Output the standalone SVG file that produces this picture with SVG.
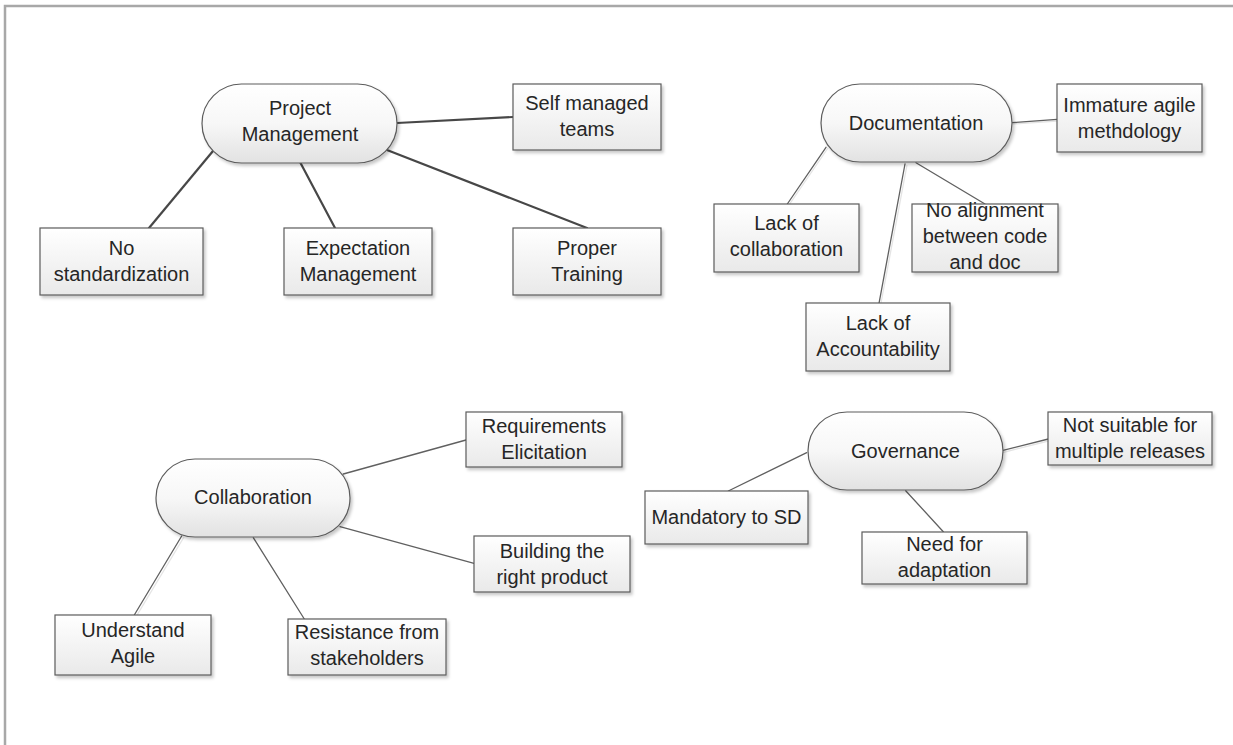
<svg xmlns="http://www.w3.org/2000/svg" width="1233" height="745" viewBox="0 0 1233 745">
<defs>
<linearGradient id="gBox" x1="0" y1="0" x2="0" y2="1">
<stop offset="0" stop-color="#ffffff"/>
<stop offset="1" stop-color="#e9e9e9"/>
</linearGradient>
<linearGradient id="gHub" x1="0" y1="0" x2="0" y2="1">
<stop offset="0" stop-color="#ffffff"/>
<stop offset="0.5" stop-color="#f7f7f7"/>
<stop offset="1" stop-color="#e2e2e2"/>
</linearGradient>
<filter id="sh" x="-10%" y="-10%" width="125%" height="130%">
<feDropShadow dx="2" dy="2.5" stdDeviation="1.5" flood-color="#000" flood-opacity="0.22"/>
</filter>
</defs>
<style>
.box{fill:url(#gBox);stroke:#5c5c5c;stroke-width:1.2;filter:url(#sh)}
.hub{fill:url(#gHub);stroke:#5c5c5c;stroke-width:1.2;filter:url(#sh)}
.t{font-family:"Liberation Sans",Arial,sans-serif;font-size:20px;fill:#262626;text-anchor:middle}
.c1{stroke:#474747;stroke-width:2.2;fill:none;stroke-linecap:round}
.c2{stroke:#606060;stroke-width:1.3;fill:none;stroke-linecap:round}
.c2s{stroke:#e4e4e4;stroke-width:1.3;fill:none}
</style>
<rect x="5" y="6" width="1300" height="800" fill="#ffffff" stroke="#a8a8a8" stroke-width="2.5"/>

<g id="connectors">
<line class="c1" x1="397" y1="123" x2="513" y2="117"/>
<line class="c1" x1="387" y1="150" x2="587" y2="228"/>
<line class="c1" x1="213" y1="151" x2="149" y2="228"/>
<line class="c1" x1="300" y1="162" x2="335" y2="228"/>

<line class="c2s" x1="1013" y1="124" x2="1057" y2="121"/>
<line class="c2" x1="1012" y1="122.7" x2="1057" y2="119.3"/>
<line class="c2s" x1="828" y1="148" x2="789" y2="205"/>
<line class="c2" x1="826" y1="147.3" x2="787.3" y2="204"/>
<line class="c2s" x1="907" y1="165" x2="881" y2="303"/>
<line class="c2" x1="905" y1="164" x2="879" y2="303.3"/>
<line class="c2" x1="916" y1="162.7" x2="985" y2="204"/>

<line class="c2" x1="343.3" y1="474" x2="466" y2="440"/>
<line class="c2" x1="340" y1="526.7" x2="474" y2="563.3"/>
<line class="c2s" x1="184" y1="537" x2="136.5" y2="616"/>
<line class="c2" x1="181.7" y1="536" x2="134.3" y2="615"/>
<line class="c2" x1="253.3" y1="537.7" x2="304.3" y2="619"/>

<line class="c2" x1="806.7" y1="452.7" x2="728.3" y2="491"/>
<line class="c2" x1="905.7" y1="490.7" x2="943.3" y2="531.7"/>
<line class="c2s" x1="1003" y1="452.5" x2="1048.3" y2="441"/>
<line class="c2" x1="1002" y1="450.7" x2="1048.3" y2="439"/>
</g>

<g id="project-management">
<rect class="hub" x="202" y="84" width="195" height="79" rx="39.5"/>
<text class="t" x="300" y="115">Project</text>
<text class="t" x="300" y="141">Management</text>
</g>
<g id="self-managed-teams">
<rect class="box" x="513" y="84" width="148" height="66"/>
<text class="t" x="587" y="110">Self managed</text>
<text class="t" x="587" y="136">teams</text>
</g>
<g id="no-standardization">
<rect class="box" x="40" y="228" width="163" height="67"/>
<text class="t" x="121.5" y="255">No</text>
<text class="t" x="121.5" y="281">standardization</text>
</g>
<g id="expectation-management">
<rect class="box" x="284" y="228" width="148" height="67"/>
<text class="t" x="358" y="255">Expectation</text>
<text class="t" x="358" y="281">Management</text>
</g>
<g id="proper-training">
<rect class="box" x="513" y="228" width="148" height="67"/>
<text class="t" x="587" y="255">Proper</text>
<text class="t" x="587" y="281">Training</text>
</g>

<g id="documentation">
<rect class="hub" x="821" y="84" width="191" height="78" rx="39"/>
<text class="t" x="916" y="130">Documentation</text>
</g>
<g id="immature-agile">
<rect class="box" x="1057" y="84" width="145" height="68"/>
<text class="t" x="1129.5" y="112">Immature agile</text>
<text class="t" x="1129.5" y="137.5">methdology</text>
</g>
<g id="lack-of-collaboration">
<rect class="box" x="714" y="204" width="145" height="68"/>
<text class="t" x="786.5" y="230">Lack of</text>
<text class="t" x="786.5" y="256">collaboration</text>
</g>
<g id="no-alignment">
<rect class="box" x="912" y="204" width="146" height="68"/>
<text class="t" x="985" y="217">No alignment</text>
<text class="t" x="985" y="243">between code</text>
<text class="t" x="985" y="269">and doc</text>
</g>
<g id="lack-of-accountability">
<rect class="box" x="806" y="303" width="144" height="68"/>
<text class="t" x="878" y="330">Lack of</text>
<text class="t" x="878" y="356">Accountability</text>
</g>

<g id="collaboration">
<rect class="hub" x="156" y="459" width="194" height="78" rx="39"/>
<text class="t" x="253" y="504">Collaboration</text>
</g>
<g id="requirements-elicitation">
<rect class="box" x="466" y="412" width="156" height="55"/>
<text class="t" x="544" y="433">Requirements</text>
<text class="t" x="544" y="458.5">Elicitation</text>
</g>
<g id="building-right-product">
<rect class="box" x="474" y="536" width="156" height="56"/>
<text class="t" x="552" y="558">Building the</text>
<text class="t" x="552" y="583.5">right product</text>
</g>
<g id="understand-agile">
<rect class="box" x="55" y="615" width="156" height="60"/>
<text class="t" x="133" y="637">Understand</text>
<text class="t" x="133" y="663">Agile</text>
</g>
<g id="resistance-stakeholders">
<rect class="box" x="288" y="619" width="158" height="56"/>
<text class="t" x="367" y="638.5">Resistance from</text>
<text class="t" x="367" y="665">stakeholders</text>
</g>

<g id="governance">
<rect class="hub" x="808" y="412" width="195" height="78" rx="39"/>
<text class="t" x="905.5" y="458">Governance</text>
</g>
<g id="mandatory-to-sd">
<rect class="box" x="645" y="491" width="163" height="53"/>
<text class="t" x="726.5" y="524">Mandatory to SD</text>
</g>
<g id="need-for-adaptation">
<rect class="box" x="862" y="532" width="165" height="52"/>
<text class="t" x="944.5" y="551">Need for</text>
<text class="t" x="944.5" y="577">adaptation</text>
</g>
<g id="not-suitable">
<rect class="box" x="1048" y="412" width="164" height="53"/>
<text class="t" x="1130" y="432">Not suitable for</text>
<text class="t" x="1130" y="458">multiple releases</text>
</g>
</svg>
